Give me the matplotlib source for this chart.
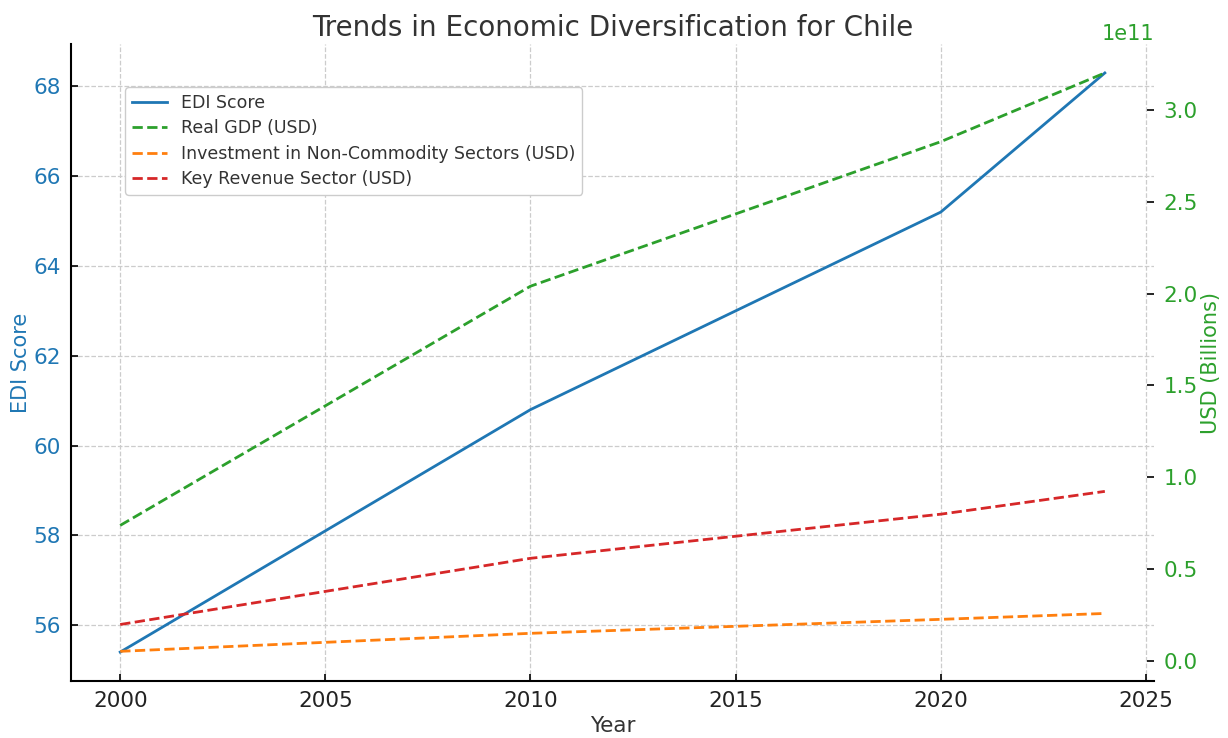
import numpy as np
import matplotlib.pyplot as plt

# data
years = [2000, 2010, 2020, 2024]
edi = [55.4, 60.8, 65.2, 68.3]
gdp = [0.739e11, 2.04e11, 2.826e11, 3.20e11]
invest = [0.054e11, 0.152e11, 0.228e11, 0.26e11]
revenue = [0.20e11, 0.56e11, 0.80e11, 0.924e11]

blue = '#1f77b4'
green = '#2ca02c'
orange = '#ff7f0e'
red = '#d62728'
txt = '#333333'

fig = plt.figure(figsize=(12.28, 7.38), dpi=100)
ax = fig.add_axes([0.0578, 0.0772, 0.882, 0.8632])
ax2 = ax.twinx()

l1, = ax.plot(years, edi, color=blue, lw=2, label='EDI Score')
l2, = ax2.plot(years, gdp, color=green, lw=2, ls='--', label='Real GDP (USD)')
l3, = ax2.plot(years, invest, color=orange, lw=2, ls='--',
               label='Investment in Non-Commodity Sectors (USD)')
l4, = ax2.plot(years, revenue, color=red, lw=2, ls='--', label='Key Revenue Sector (USD)')

ax.set_xlim(1998.8, 2025.2)
ax.set_ylim(54.755, 68.945)
ax2.set_ylim(-0.1075e11, 3.3575e11)
ax.set_xticks([2000, 2005, 2010, 2015, 2020, 2025])
ax.set_yticks([56, 58, 60, 62, 64, 66, 68])

ax.grid(True, ls='--', color='#cccccc', lw=0.9)

for a in (ax, ax2):
    a.spines['top'].set_visible(False)
    a.spines['right'].set_visible(False)
    a.tick_params(direction='in', labelsize=15.5, width=1.2, length=5)
ax.spines['left'].set_linewidth(1.5)
ax.spines['bottom'].set_linewidth(1.5)
ax2.spines['left'].set_visible(False)
ax2.spines['bottom'].set_visible(False)
ax.tick_params(axis='x', labelcolor='#222222', pad=7)
ax.tick_params(axis='y', labelcolor=blue, pad=7)
ax2.tick_params(axis='y', labelcolor=green, pad=7)
ax2.yaxis.get_offset_text().set_color(green)
ax2.yaxis.get_offset_text().set_fontsize(15)

ax.set_title('Trends in Economic Diversification for Chile', fontsize=20, color=txt)
ax.set_xlabel('Year', fontsize=15.5, color=txt)
ax.set_ylabel('EDI Score', fontsize=15, color=blue, labelpad=2)
ax2.set_ylabel('USD (Billions)', fontsize=15, color=green, labelpad=2)

ax.legend(handles=[l1, l2, l3, l4], loc='upper left', bbox_to_anchor=(0.042, 0.946),
          fontsize=12.5, labelcolor=txt, framealpha=1, edgecolor='#cccccc',
          labelspacing=0.42)

plt.savefig('out.png', dpi=100)
